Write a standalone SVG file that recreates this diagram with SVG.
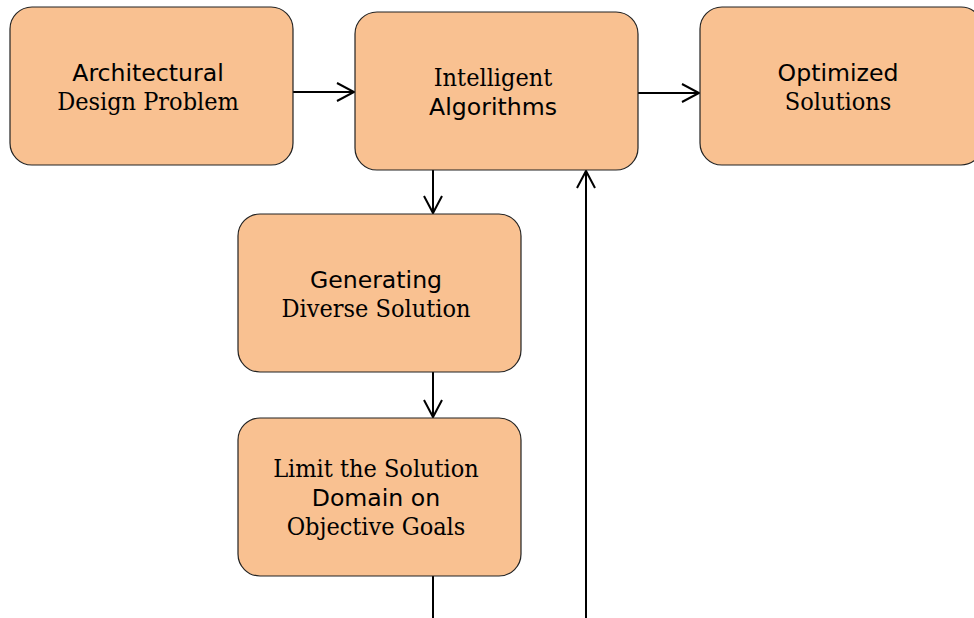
<svg xmlns="http://www.w3.org/2000/svg" width="974" height="618" viewBox="0 0 974 618">
<style>
.box{fill:#F9C191;stroke:#222;stroke-width:1.2}
.s{font-family:"DejaVu Sans",Verdana,sans-serif;font-size:23.6px;fill:#000;text-anchor:middle}
.f{font-family:"DejaVu Serif Condensed","DejaVu Serif","Liberation Serif",serif;font-stretch:condensed;font-size:25px;fill:#000;text-anchor:middle}
.c{stroke:#000;stroke-width:2;fill:none}
</style>
<defs>
<marker id="arr" markerUnits="userSpaceOnUse" markerWidth="24" markerHeight="24" viewBox="-20 -12 24 24" refX="0" refY="0" orient="auto">
<path d="M-17,-9 L0,0 L-17,9" fill="none" stroke="#000" stroke-width="2"/>
</marker>
</defs>
<rect width="974" height="618" fill="#fff"/>
<g id="connectors">
<line class="c" x1="293" y1="92" x2="354" y2="92" marker-end="url(#arr)"/>
<line class="c" x1="638" y1="93" x2="699" y2="93" marker-end="url(#arr)"/>
<line class="c" x1="433" y1="170" x2="433" y2="213" marker-end="url(#arr)"/>
<line class="c" x1="433" y1="372" x2="433" y2="417" marker-end="url(#arr)"/>
<line class="c" x1="433" y1="576" x2="433" y2="620"/>
<line class="c" x1="586" y1="620" x2="586" y2="171" marker-end="url(#arr)"/>
</g>
<g id="n1">
<rect class="box" x="10" y="7" width="283" height="158" rx="22"/>
<text class="s" x="148" y="81">Architectural</text>
<text class="f" x="148" y="110">Design Problem</text>
</g>
<g id="n2">
<rect class="box" x="355" y="12" width="283" height="158" rx="22"/>
<text class="f" x="493" y="86">Intelligent</text>
<text class="s" x="493" y="115">Algorithms</text>
</g>
<g id="n3">
<rect class="box" x="700" y="7" width="283" height="158" rx="22"/>
<text class="s" x="838" y="81">Optimized</text>
<text class="f" x="838" y="110">Solutions</text>
</g>
<g id="n4">
<rect class="box" x="238" y="214" width="283" height="158" rx="22"/>
<text class="s" x="376" y="288">Generating</text>
<text class="f" x="376" y="317">Diverse Solution</text>
</g>
<g id="n5">
<rect class="box" x="238" y="418" width="283" height="158" rx="22"/>
<text class="f" x="376" y="477">Limit the Solution</text>
<text class="s" x="376" y="506">Domain on</text>
<text class="f" x="376" y="535">Objective Goals</text>
</g>
</svg>
